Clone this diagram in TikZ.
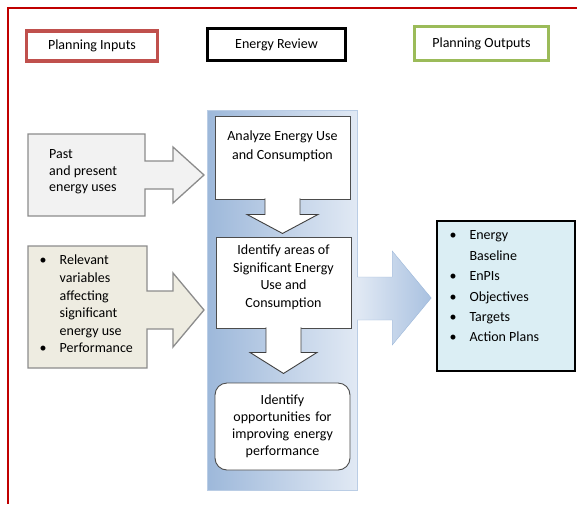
\documentclass[tikz,border=0pt]{standalone}
\usepackage{fontspec}
\setmainfont{Carlito}
\definecolor{framered}{HTML}{C00000}
\definecolor{inred}{HTML}{C0504D}
\definecolor{outgreen}{HTML}{9BBB59}
\definecolor{coldark}{HTML}{9DB8DA}
\definecolor{collight}{HTML}{E1E9F4}
\definecolor{arrowdark}{HTML}{A9C1E0}
\definecolor{pastgray}{HTML}{F2F2F2}
\definecolor{varbeige}{HTML}{EEECE1}
\definecolor{outcyan}{HTML}{DBEEF4}
\definecolor{edgegray}{HTML}{8C8C8C}
\newcommand{\bul}{\makebox[20pt][l]{\textbullet}}
\newcommand{\nob}{\makebox[20pt]{}}

\begin{document}
\begin{tikzpicture}[x=1pt, y=-1pt, font=\fontsize{14}{17}\selectfont,
    titlebox/.style={draw, line width=3.5pt, fill=white, inner sep=0pt},
    stepbox/.style={draw=black!70, fill=white, line width=0.9pt, inner sep=0pt},
    downarrow/.style={draw=black!75, fill=white, line width=0.9pt},
    inarrow/.style={draw=edgegray, line width=1.3pt}]
    \useasboundingbox (0,0) rectangle (577,504);
    \draw[framered, line width=2.2pt] (577,8) -- (8,8) -- (8,504);

    \node[titlebox, draw=inred, minimum width=131pt, minimum height=30pt] (inputs) at (92,46) {Planning Inputs};
    \node[titlebox, draw=black, minimum width=138pt, minimum height=32pt] (review) at (276.5,44.5) {Energy Review};
    \node[titlebox, draw=outgreen, minimum width=134pt, minimum height=34pt] (outputs) at (481.5,43.5) {Planning Outputs};

    \node[left color=coldark, right color=collight, draw=coldark!70, minimum width=150pt, minimum height=380pt] (col) at (282,300) {};

    \node[stepbox, font=\fontsize{14}{19}\selectfont] (analyze) at (282.5,157.5)
        {\parbox[c][83pt][t]{135pt}{\centering\vspace*{15pt}Analyze Energy Use\\and Consumption}};
    \node[stepbox, font=\fontsize{14}{17.5}\selectfont] (areas) at (283.5,282.5)
        {\parbox[c][91pt][t]{135pt}{\centering\vspace*{8pt}Identify areas of\\Significant Energy\\Use and\\Consumption}};
    \node[stepbox, rounded corners=12pt, minimum width=135pt, minimum height=87pt, text width=130pt, align=center] (opps) at (282.5,426.5)
        {Identify\\opportunities for\\improving energy\\performance};

    \filldraw[downarrow] (analyze.south) ++(-17.5,-1) -- ++(0,16) -- ++(-18,0) -- ++(35.5,19) -- ++(35.5,-19) -- ++(-18,0) -- ++(0,-16);
    \filldraw[downarrow] (areas.south) ++(-17.5,-1) -- ++(0,25) -- ++(-16,0) -- ++(33.5,21) -- ++(33.5,-21) -- ++(-16,0) -- ++(0,-25);

    \filldraw[inarrow, fill=pastgray] (28,134) -- (145,134) -- (145,161) -- (173,161) -- (173,147) -- (204,175) -- (173,203) -- (173,189) -- (145,189) -- (145,216) -- (28,216) -- cycle;
    \node[align=left, anchor=west, inner sep=0pt, font=\fontsize{14}{16.5}\selectfont] (past) at (49,172) {Past\\and present\\energy uses};

    \filldraw[inarrow, fill=varbeige] (28,246) -- (147,246) -- (147,291) -- (173,291) -- (173,273) -- (204,310) -- (173,347) -- (173,329) -- (147,329) -- (147,368) -- (28,368) -- cycle;
    \node[align=left, anchor=west, inner sep=0pt, font=\fontsize{14}{17.6}\selectfont] (vars) at (39.5,304)
        {\bul Relevant\\\nob variables\\\nob affecting\\\nob significant\\\nob energy use\\\bul Performance};

    \shadedraw[left color=collight, right color=arrowdark, draw=coldark] (col.east) ++(0,-23) -- ++(35,0) -- ++(0,-26) -- ++(39,47) -- ++(-39,47) -- ++(0,-25) -- ++(-35,0);

    \node[draw=black, line width=1.2pt, fill=outcyan, inner sep=0pt, font=\fontsize{14}{20.4}\selectfont] (results) at (506,296)
        {\parbox[c][150pt][t]{138pt}{\leftskip=12.5pt\vspace*{10pt}\bul Energy\\\nob Baseline\\\bul EnPIs\\\bul Objectives\\\bul Targets\\\bul Action Plans}};
\end{tikzpicture}
\end{document}
